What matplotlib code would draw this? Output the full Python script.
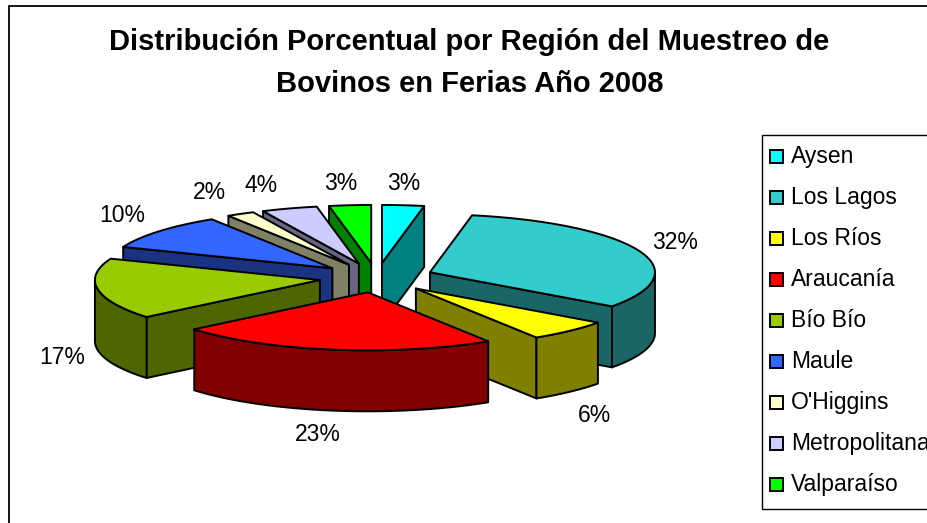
import numpy as np
import matplotlib
matplotlib.use('Agg')
import matplotlib.pyplot as plt
from matplotlib.patches import Polygon, Rectangle

plt.rcParams['font.family'] = ['Liberation Sans', 'DejaVu Sans']

# Dane
regiones = ['Aysen', 'Los Lagos', 'Los Ríos', 'Araucanía', 'Bío Bío', 'Maule',
            "O'Higgins", 'Metropolitana', 'Valparaíso']
valores = [3, 32, 6, 23, 17, 10, 2, 4, 3]
kolory = ['#00FFFF', '#33CCCC', '#FFFF00', '#FF0000', '#99CC00', '#3366FF',
          '#FFFFCC', '#CCCCFF', '#00FF00']
kolory_bok = ['#008080', '#1A6666', '#808000', '#800000', '#4D6600', '#1A3380',
              '#808066', '#666680', '#008000']
titulo = 'Distribución Porcentual por Región del Muestreo de\nBovinos en Ferias Año 2008'

# Geometria (piksele)
cx, cy = 376.6, 277.7
rx, ry = 225, 58
glebokosc = 61
wybuch = 0.255
etykiety_xy = [(404, 183.5), (675, 242.5), (595, 415.5), (318, 434.5), (62, 357.5),
               (122, 215.5), (209, 192.5), (261, 185.5), (341, 183.5)]
kolejnosc = [0, 8, 7, 6, 5, 1, 4, 2, 3]
lw = 1.4

fig = plt.figure(figsize=(9.27, 5.23), dpi=100)
ax = fig.add_axes([0, 0, 1, 1])
ax.set_xlim(0, 927)
ax.set_ylim(523, 0)
ax.axis('off')

# Ramka wykresu
ax.add_patch(Rectangle((9.5, 6), 940, 540, fc='white', ec='black', lw=1.3))


def luk(ox, oy, t1, t2):
    t = np.radians(np.linspace(t1, t2, max(2, int(abs(t2 - t1)) + 2)))
    return np.column_stack([ox + rx * np.sin(t), oy - ry * np.cos(t)])


katy = np.concatenate([[0], np.cumsum(valores)]) * 3.6

# Wycinki od tylu do przodu
for i in kolejnosc:
    t1, t2 = katy[i], katy[i + 1]
    mid = np.radians((t1 + t2) / 2)
    ox = cx + wybuch * rx * np.sin(mid)
    oy = cy - wybuch * ry * np.cos(mid)
    srodek = np.array([[ox, oy]])
    dol = np.array([0, glebokosc])

    # Sciany ciecia widoczne od strony widza
    for kat, normalna in [(t1, t1 - 90), (t2, t2 + 90)]:
        if -np.cos(np.radians(normalna)) > 0:
            brzeg = luk(ox, oy, kat, kat)[:1]
            sciana = np.vstack([srodek, brzeg, brzeg + dol, srodek + dol])
            ax.add_patch(Polygon(sciana, fc=kolory_bok[i], ec='black', lw=lw, joinstyle='round'))

    # Krawedz zewnetrzna
    a, b = max(t1, 90), min(t2, 270)
    if a < b:
        gora = luk(ox, oy, a, b)
        ax.add_patch(Polygon(np.vstack([gora, gora[::-1] + dol]), fc=kolory_bok[i],
                             ec='black', lw=lw, joinstyle='round'))

    # Wierzch
    ax.add_patch(Polygon(np.vstack([srodek, luk(ox, oy, t1, t2)]), fc=kolory[i],
                         ec='black', lw=lw, joinstyle='round'))

for i, (x, y) in enumerate(etykiety_xy):
    ax.text(x, y, '%d%%' % valores[i], ha='center', va='center', fontsize=16.5, color='black')

ax.text(469.5, 63, titulo, ha='center', va='center', fontsize=21, fontweight='bold',
        linespacing=1.6, color='black')

# Legenda
ax.add_patch(Rectangle((761.8, 135), 200, 374, fc='white', ec='black', lw=1))
for i, nazwa in enumerate(regiones):
    y = 156 + i * 41
    ax.add_patch(Rectangle((770.5, y - 6), 12.5, 12.5, fc=kolory[i], ec='black', lw=1.4))
    ax.text(791, y + 0.5, nazwa, ha='left', va='center', fontsize=16.5, color='black')

plt.savefig('out.png', dpi=100)
